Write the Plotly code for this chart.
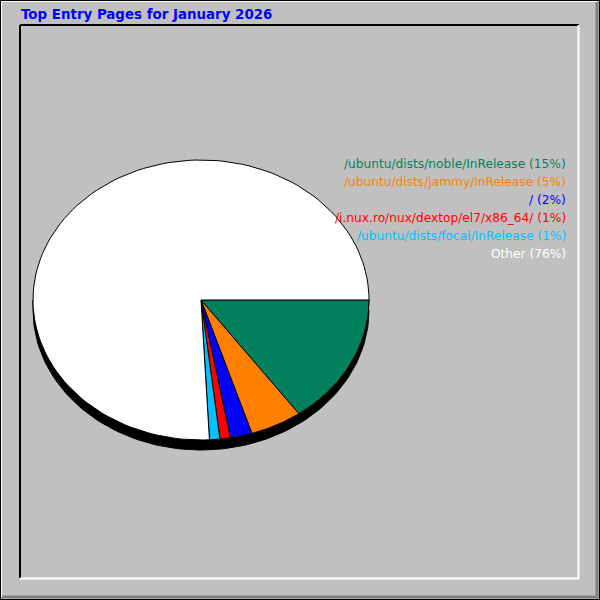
import numpy as np
import plotly.graph_objects as go

# top entry pages, percent of entries
pages = [
    "/ubuntu/dists/noble/InRelease",
    "/ubuntu/dists/jammy/InRelease",
    "/",
    "/i.nux.ro/nux/dextop/el7/x86_64/",
    "/ubuntu/dists/focal/InRelease",
    "Other",
]
percents = [15.1, 5.0, 2.1, 1.0, 1.0, 75.8]
slice_colors = ["#00805C", "#FF8000", "#0000FF", "#FF0000", "#00C0FF", "#FFFFFF"]

title = "Top Entry Pages for January 2026"

# pie geometry (pixels)
CX, CY = 201, 300
RX, RY = 168, 140
DEPTH = 10


def ellipse_pts(t0, t1, n=120, dy=0):
    t = np.radians(np.linspace(t0, t1, n))
    return CX + RX * np.cos(t), CY + dy + RY * np.sin(t)


fig = go.Figure()

# 3d side of the pie (lower half only)
bx1, by1 = ellipse_pts(0, 180, dy=DEPTH)
bx0, by0 = ellipse_pts(180, 0, dy=0)
fig.add_trace(go.Scatter(
    x=np.concatenate([bx1, bx0]), y=np.concatenate([by1, by0]),
    fill="toself", fillcolor="black", mode="lines",
    line=dict(color="black", width=1), hoverinfo="skip", showlegend=False,
))

total = sum(percents)
start = 0.0
for name, val, col in zip(pages, percents, slice_colors):
    span = 360.0 * val / total
    ex, ey = ellipse_pts(start, start + span)
    fig.add_trace(go.Scatter(
        x=np.concatenate([[CX], ex, [CX]]),
        y=np.concatenate([[CY], ey, [CY]]),
        fill="toself", fillcolor=col, mode="lines",
        line=dict(color="black", width=1),
        name=name, showlegend=False,
    ))
    start += span

# legend text, right aligned
for i, (name, val, col) in enumerate(zip(pages, percents, slice_colors)):
    fig.add_annotation(
        x=567.5, y=164 + i * 18, xref="x", yref="y",
        text="%s (%d%%)" % (name, round(val)),
        showarrow=False, xanchor="right", yanchor="middle",
        font=dict(family="DejaVu Sans", size=12.2, color=col),
    )

fig.add_annotation(
    x=19, y=14, xref="x", yref="y", text="<b>%s</b>" % title,
    showarrow=False, xanchor="left", yanchor="middle",
    font=dict(family="DejaVu Sans", size=13.4, color="#0000FF"),
)

# bevelled outer frame and inset inner frame
line_shapes = [
    # outer
    (0.5, 0.5, 599.5, 0.5, "black", 1),
    (0.5, 0.5, 0.5, 599.5, "black", 1),
    (1.5, 1.5, 597, 1.5, "white", 1),
    (1.5, 1.5, 1.5, 597, "white", 1),
    (597, 2, 597, 598, "#808080", 3),
    (2, 597, 598, 597, "#808080", 3),
    (599.5, 0, 599.5, 600, "black", 1),
    (0, 599.5, 600, 599.5, "black", 1),
    # inner
    (20, 25, 579, 25, "black", 2),
    (20, 25, 20, 578, "black", 2),
    (578.5, 25, 578.5, 579, "white", 2),
    (20, 578.5, 579, 578.5, "white", 2),
]
for x0, y0, x1, y1, c, w in line_shapes:
    fig.add_shape(type="line", x0=x0, y0=y0, x1=x1, y1=y1, xref="x", yref="y",
                  line=dict(color=c, width=w))

fig.update_layout(
    width=600, height=600,
    margin=dict(l=0, r=0, t=0, b=0),
    paper_bgcolor="#C0C0C0", plot_bgcolor="#C0C0C0",
    xaxis=dict(range=[0, 600], visible=False, fixedrange=True),
    yaxis=dict(range=[600, 0], visible=False, fixedrange=True),
    showlegend=False,
)

# page body has a default margin, drop it so the chart fills the window
fig.write_html("out.html", config={"displayModeBar": False},
               post_script="document.body.style.margin='0';")
